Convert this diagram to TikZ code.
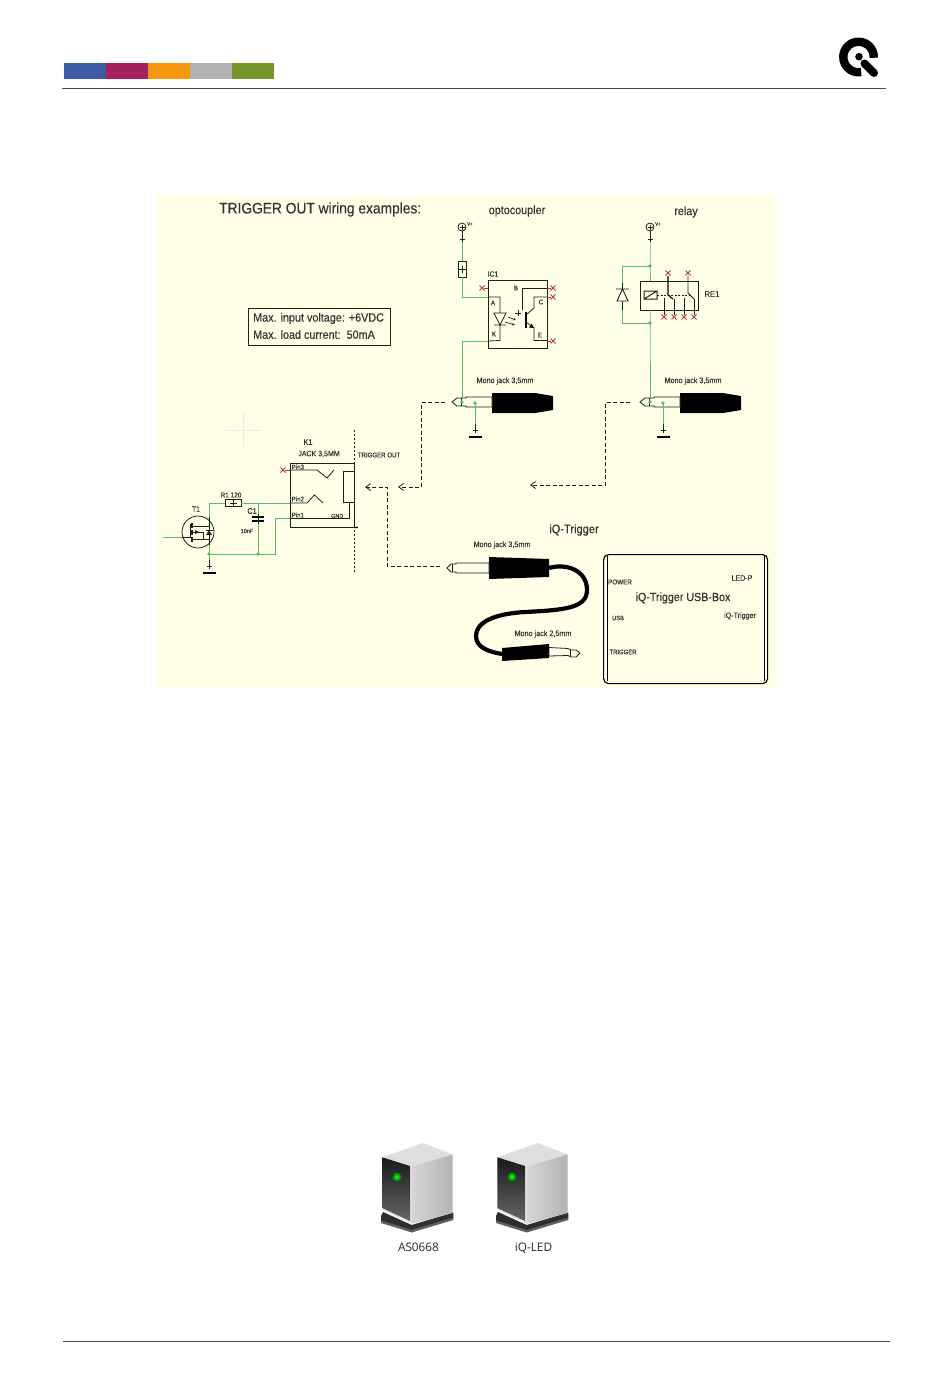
\documentclass[tikz,border=0pt]{standalone}
\usepackage{fontspec}
\setmainfont{Liberation Sans}
\newfontfamily\cad[FakeStretch=0.9,FakeBold=0.25]{Liberation Sans}
\newfontfamily\uifont{Open Sans}
\usetikzlibrary{arrows.meta}
\definecolor{panel}{HTML}{FFFFE8}
\definecolor{wiregreen}{HTML}{5CBC60}
\definecolor{pinred}{HTML}{B23A3A}
\definecolor{ink}{HTML}{1E1E1E}
\definecolor{cadtext}{HTML}{333333}
\definecolor{barblue}{HTML}{3C5AA6}
\definecolor{barmag}{HTML}{A6205F}
\definecolor{barora}{HTML}{F5960F}
\definecolor{bargry}{HTML}{B2B2B2}
\definecolor{bargrn}{HTML}{76962A}
\definecolor{rulegrey}{HTML}{4A4A4A}
\tikzset{
  wire/.style={draw=wiregreen,line width=1pt},
  sch/.style={draw=ink,line width=.8pt},
  heavy/.style={draw=black,line width=1.1pt},
  link/.style={draw=ink,line width=.8pt,dash pattern=on 4pt off 2.5pt},
  linkarrow/.style={link,-{Straight Barb[length=5pt,width=7pt,line width=.8pt]}},
  dot/.style={circle,fill=wiregreen,inner sep=0pt,minimum size=3.6pt},
  lbl/.style={inner sep=0pt,text=cadtext,font=\cad\fontsize{#1}{#1}\selectfont},
  lbl/.default=7,
  xm/.pic={\draw[pinred,line width=.8pt] (-2.5,-2.5)--(2.5,2.5) (-2.5,2.5)--(2.5,-2.5);},
  groundsym/.pic={\draw[sch] (0,-13)--(0,-4) (-2.5,-7)--(2.5,-7);\draw[black,line width=1.6pt] (-6.5,0)--(6.5,0);},
  vplus/.pic={\draw[sch] (0,0) circle (4);\draw[sch] (-2.5,0)--(2.5,0) (0,-2.5)--(0,2.5) (0,4)--(0,15) (-2.5,12)--(2.5,12);
     \node[lbl=5,anchor=west] at (5,-3) {V+};},
  monojack/.pic={
     \fill[black] (40,-9)--(83,-9)--(101,-6)--(101,8)--(83,11)--(40,11)--cycle;
     \draw[sch,fill=panel] (0,0)--(5,-4)--(14,-4)--(14,-5)--(40,-5)--(40,5)--(14,5)--(14,4)--(5,4)--cycle;
     \draw[sch] (9,-4)--(9,4);},
}
\begin{document}
\begin{tikzpicture}[x=1pt,y=-1pt]
\useasboundingbox (0,0) rectangle (950,1397);
\fill[white] (0,0) rectangle (950,1397);
% header
\fill[barblue] (64,63) rectangle (106,79);
\fill[barmag] (106,63) rectangle (148,79);
\fill[barora] (148,63) rectangle (190,79);
\fill[bargry] (190,63) rectangle (232,79);
\fill[bargrn] (232,63) rectangle (273.5,79);
\coordinate (hl) at (62,88.5); \coordinate (hr) at (886,88.5);
\draw[rulegrey,line width=.8pt] (hl)--(hr);
\draw[black,line width=8.4pt] (873.75,57.8) arc[start angle=3,end angle=-280,radius=15.25];
\fill[black] (859,56.7) circle (3.8);
\draw[black,line width=8pt,line cap=round] (864.5,63.5)--(874,73);
% footer rule
\coordinate (fl) at (63,1341.5); \coordinate (fr) at (890,1341.5);
\draw[rulegrey,line width=.8pt] (fl)--(fr);
% panel
\fill[panel] (157,195) rectangle (777,688);
\draw[black!8,line width=.8pt] (225,430)--(261,430) (243,412)--(243,447);
\node[lbl=15.3,anchor=west] (title) at (219,209.5) {TRIGGER OUT wiring examples:};
\node[draw=ink,line width=.6pt,minimum width=142pt,minimum height=37pt,anchor=north west] (maxbox) at (248,308) {};
\node[lbl=12,anchor=west] (maxv) at (253,318.5) {Max. input voltage: +6VDC};
\node[lbl=12,anchor=west] (maxc) at (253,334.5) {Max. load current:\ \ 50mA};
% --- MOSFET
\node[draw=ink,line width=.8pt,circle,minimum size=32pt,inner sep=0pt] (T1) at (198,532) {};
\coordinate (Tin) at (163,537);\coordinate (Tg) at (182,537);
\coordinate (Td) at (209,503);\coordinate (Ts) at (209,554);
\draw[wire] (Tin)--(Tg);
\draw[sch] (Tg)--(190,537)--(190,524);
\draw[sch,line width=1.1pt] (192,523)--(192,528) (192,530)--(192,535) (192,537)--(192,542);
\draw[sch] (192,526)--(209,526) (192,532)--(203,532) (192,539)--(209,539) (203,532)--(203,539);
\draw[sch] (209,517)--(209,545);
\fill[ink] (206,535)--(212,535)--(209,530)--cycle;
\draw[sch] (205.5,530)--(212.5,530);
\fill[ink] (195,530)--(199,532)--(195,534)--cycle;
\node[lbl=7.5] (T1l) at (196,509) {T1};
% R1
\node[draw=ink,fill=panel,line width=.8pt,minimum width=16pt,minimum height=7pt,inner sep=0pt] (R1) at (233,503) {};
\draw[ink,line width=.7pt] (229.5,503)--(236.5,503) (233,499.5)--(233,506.5);
\node[lbl=7.2] (R1l) at (231,495) {R1 120};
% K1 connector
\node[draw=ink,line width=.9pt,minimum width=64pt,minimum height=64pt,inner sep=0pt,anchor=north west] (K1) at (290,463) {};
\node[draw=ink,line width=.8pt,minimum width=11pt,minimum height=31pt,inner sep=0pt,anchor=north west] (K1s) at (343,471) {};
\coordinate (p3) at (290,470);\coordinate (p2) at (290,503);\coordinate (p1) at (290,518);
\draw[heavy] (K1.south east)--(358,527);
\draw[sch] (p3)--(317,470)--(327,478)--(334,470);
\draw[sch] (p2)--(307,503)--(314.5,495)--(323,503);
\draw[sch] (p1)--(349,518)--(349,502);
\draw[ink,line width=.7pt,dash pattern=on 2pt off 2pt] (354,430)--(354,573);
\pic at (283,470) {xm};
\draw[pinred,line width=.5pt] (285,470)--(p3);
\node[lbl=6.8,anchor=west] at (291.5,467) {Pin3};
\node[lbl=6.8,anchor=west] at (291.5,499) {Pin2};
\node[lbl=6.8,anchor=west] at (291.5,515) {Pin1};
\node[lbl=6,anchor=west] at (331,516) {GND};
\node[lbl=8] at (308,442) {K1};
\node[lbl=7.8] at (319,454) {JACK 3,5MM};
\node[lbl=6.8] at (379,455) {TRIGGER OUT};
% C1
\coordinate (Cj) at (258,503);\coordinate (Cb) at (258,554);
\coordinate (Kb) at (275,554);\coordinate (Kt) at (275,518);
\draw[wire] (Td)--(R1.west) (R1.east)--(p2);
\draw[wire] (Cj)--(Cb);
\draw[wire] (Td)--(209,517) (209,545)--(Ts)--(Kb)--(Kt)--(p1);
\draw[black,line width=1.6pt] (252,517)--(264,517) (252,521)--(264,521);
\draw[sch] (258,514)--(258,524);
\node[lbl=8] at (252,511) {C1};
\node[lbl=6] at (247,531) {10nF};
\node[dot] at (Cb) {};\node[dot] at (Ts) {};
\draw[wire] (Ts)--(209,562);
\pic at (209,573) {groundsym};
% --- optocoupler
\node[lbl=12] (optol) at (517,211) {optocoupler};
\pic at (462,227) {vplus};
\node[draw=ink,fill=panel,line width=.8pt,minimum width=8pt,minimum height=16pt,inner sep=0pt] (Ro) at (462,269) {};
\draw[ink,line width=.7pt] (458.5,269)--(465.5,269) (462,265.5)--(462,272.5);
\draw[wire] (462,242)--(Ro.north);
\node[draw=ink,line width=.9pt,minimum width=59pt,minimum height=68pt,inner sep=0pt,anchor=north west] (IC1) at (488,280) {};
\node[lbl=7.5] at (493,274) {IC1};
\coordinate (pA) at (488,297);\coordinate (pK) at (488,341);\coordinate (Jo) at (462,402);
\draw[wire] (Ro.south)--(462,297)--(pA);
\draw[wire] (pK)--(462,341)--(Jo);
\draw[sch] (pA)--(500,297)--(500,313) (500,325)--(500,340.5)--(pK);
\draw[ink,line width=.8pt] (494,313)--(506,313)--(500,325)--cycle (494,325)--(506,325);
\draw[ink,line width=.7pt,-{Stealth[length=3pt,width=2.5pt]}] (508,317)--(516,320);
\draw[ink,line width=.7pt,-{Stealth[length=3pt,width=2.5pt]}] (505,322)--(515,325);
\draw[sch] (547,288)--(522,288)--(522,310);
\draw[black,line width=1.4pt] (526,312)--(526,328);
\draw[sch] (547,297)--(534,297)--(534,308)--(526,315);
\draw[sch] (526,322)--(534,328)--(534,340.5)--(547,340.5);
\fill[black] (534,328)--(529,327.5)--(531.5,323.5)--cycle;
\draw[ink,line width=.8pt] (515,313)--(521,313) (518,310)--(518,316);
\foreach \p in {(482,288),(553,288),(553,297),(553,341)} {\pic at \p {xm};}
\draw[pinred,line width=.5pt] (484,288)--(488,288) (547,288)--(551,288) (547,297)--(551,297) (547,341)--(551,341);
\node[lbl=6.8] at (493,303) {A};
\node[lbl=6.8] at (494,334) {K};
\node[lbl=6.8] at (516,288) {B};
\node[lbl=6.8] at (541,302) {C};
\node[lbl=6.8] at (540,335) {E};
\node[lbl=8] at (505,381) {Mono jack 3,5mm};
\pic at (452,402) {monojack};
\node[dot] at (Jo) {};
\coordinate (Go) at (475,403);
\draw[wire] (Go)--(475,427);
\node[dot] at (Go) {};
\pic at (475,437) {groundsym};
% --- relay
\node[lbl=12] at (686,212) {relay};
\pic at (650,227) {vplus};
\coordinate (Rt) at (650,266);\coordinate (Rb) at (650,323);\coordinate (Jr) at (650,402);
\node[draw=ink,line width=.9pt,minimum width=58pt,minimum height=29pt,inner sep=0pt,anchor=north west] (RE1) at (640,281) {};
\draw[wire] (650,242)--(Rt)--(650,281) (650,310)--(Rb)--(Jr);
\draw[wire] (Rt)--(622,266)--(622,283) (622,310)--(622,323)--(Rb);
\draw[ink,line width=.9pt] (617,301)--(628,301)--(622.5,289)--cycle (616,289)--(629,289) (622.5,283)--(622.5,289) (622.5,301)--(622.5,310);
\draw[ink,line width=1pt] (644,291) rectangle (657,299) (644,299)--(657,291);
\draw[ink,line width=.5pt,dash pattern=on 2pt off 1.5pt] (657,295)--(690,295);
\draw[heavy] (668,276)--(668,295)--(673,299);
\draw[sch] (688,276)--(688,293)--(694,299);
\draw[sch] (664,298)--(664,315) (674,299)--(674,315) (684,298)--(684,315) (694,299)--(694,315);
\foreach \p in {(668,273),(688,273),(664,317),(674,317),(684,317),(694,317)} {\pic at \p {xm};}
\node[lbl=8.5] at (712,294) {RE1};
\node[dot] at (Rt) {};\node[dot] at (Rb) {};
\node[lbl=8] at (693,381) {Mono jack 3,5mm};
\pic at (640,402) {monojack};
\node[dot] at (Jr) {};
\coordinate (Gr) at (663,403);
\draw[wire] (Gr)--(663,427);
\node[dot] at (Gr) {};
\pic at (663,437) {groundsym};
% --- dashed links
\coordinate (a1) at (398,487);\coordinate (a2) at (365,487);\coordinate (a3) at (530,485);
\coordinate (jo) at (445,402.5);\coordinate (jr) at (630,402.5);\coordinate (jt) at (440,566);
\draw[linkarrow] (jo)--(421,402.5)--(421,487)--(a1);
\draw[linkarrow] (jr)--(605,402.5)--(605,485)--(a3);
\draw[linkarrow] (jt)--(387,566)--(387,487)--(a2);
% --- iQ-Trigger cable
\node[lbl=12.3] at (574,530) {iQ-Trigger};
\node[lbl=8] at (502,545) {Mono jack 3,5mm};
\node[lbl=8] at (543,634) {Mono jack 2,5mm};
\coordinate (ca) at (549,568);\coordinate (cb) at (502,654);
\draw[black,line width=4.2pt] (ca) .. controls (566,563) and (587,570) .. (587,590)
   .. controls (587,608) and (565,610) .. (525,612)
   .. controls (490,614) and (476,624) .. (476,636)
   .. controls (476,648) and (490,652) .. (cb);
\fill[black] (489,557)--(549,559)--(549,577)--(489,579)--cycle;
\draw[sch,fill=panel] (447,568)--(451,564)--(456,564)--(456,563)--(489,563)--(489,573)--(456,573)--(456,572)--(451,572)--cycle;
\draw[sch] (452,564)--(452,572);
\fill[black] (502,648)--(549,644)--(549,658)--(502,661)--cycle;
\draw[sch,fill=panel] (580,653)--(576,657)--(571,657)--(568,655.5)--(549,656)--(549,647.5)--(568,648.5)--(571,650)--(576,650)--cycle;
\draw[sch] (570,650)--(570,657);
% --- USB box
\node[draw=black,line width=1.2pt,rounded corners=5pt,minimum width=164pt,minimum height=129pt,inner sep=0pt,anchor=north west] (box) at (603,554) {};
\draw[black,line width=.8pt] (607,556)--(607,681) (764,556)--(764,681);
\node[lbl=11.9] at (683,598) {iQ-Trigger USB-Box};
\node[lbl=7] at (620,582) {POWER};
\node[lbl=7.9] at (742,578) {LED-P};
\node[lbl=6.4] at (618,618) {USB};
\node[lbl=7.9] at (740,616) {iQ-Trigger};
\node[lbl=6.6] at (623,652) {TRIGGER};
% --- device icons
\foreach \dx/\lab in {0/AS0668,115/iQ-LED} {
\begin{scope}[xshift=\dx pt]
  % base
  \fill[black!82] (381,1216)--(383,1212)--(411.7,1225)--(453.3,1212.5)--(453.3,1218)--(411.7,1231)--(381,1221.5)--cycle;
  \fill[black!62] (381,1220.5)--(411.7,1230)--(453.3,1217.5)--(453.3,1220)--(411.7,1232.5)--(381,1223)--cycle;
  % body
  \fill[black!13] (382.3,1157.3)--(423,1143)--(452.7,1154.5)--(411.7,1166.3)--cycle;
  \shade[left color=black!16,right color=black!30] (411.7,1166.3)--(452.7,1154.5)--(452.7,1213)--(411.7,1224)--cycle;
  \fill[black!10] (382.3,1157.3)--(411.7,1166.3)--(411.7,1224)--(382.3,1209.5)--cycle;
  \shade[top color=black!90,middle color=black!82,bottom color=black!60] (382.3,1157.3)--(410,1166)--(410,1221)--(382.3,1208)--cycle;
  % LED
  \fill[green!55!black] (397,1177) circle (4.4);
  \fill[green!75!black] (397,1177) circle (3.2);
  \fill[green!70!white!90!black] (397,1177) circle (1.5);
  \node[anchor=base,inner sep=0pt,font=\uifont\fontsize{11.8}{11.8}\selectfont,text=black!85] at (418.5,1251.5) {\lab};
\end{scope}
}
\end{tikzpicture}
\end{document}
